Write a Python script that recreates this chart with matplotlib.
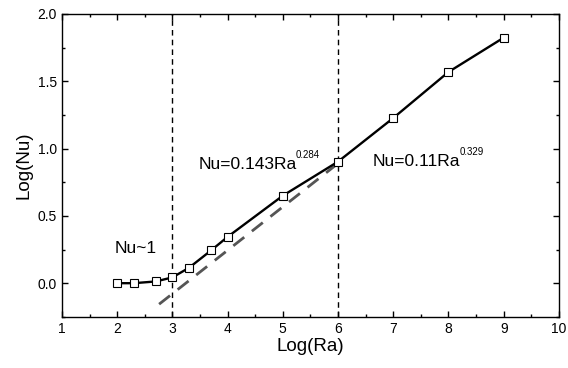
import numpy as np
import matplotlib.pyplot as plt
from matplotlib.ticker import MultipleLocator

plt.rcParams['font.family'] = ['Liberation Sans', 'DejaVu Sans']

# measured points
log_ra = [2.0, 2.3, 2.7, 3.0, 3.3, 3.7, 4.0, 5.0, 6.0, 7.0, 8.0, 9.0]
log_nu = [0.0, 0.0, 0.013, 0.043, 0.114, 0.243, 0.344, 0.65, 0.903, 1.227, 1.569, 1.824]

# fitted line (gray dashed)
fit_x = [2.76, 6.0]
fit_y = [-0.156, 0.89]

# regime boundaries
bounds = [3, 6]

fig = plt.figure(figsize=(5.68, 3.68), dpi=100)
ax = fig.add_axes([0.109, 0.139, 0.875, 0.823])

for b in bounds:
    ax.axvline(b, color='k', lw=1, ls=(0, (4, 3)), zorder=1)

ax.plot(fit_x, fit_y, color='#555555', lw=2, ls=(0, (5, 3.5)), zorder=2)
ax.plot(log_ra, log_nu, color='k', lw=1.7, marker='s', ms=5.5,
        mfc='white', mec='k', mew=0.8, zorder=3)

ax.text(1.96, 0.225, 'Nu~1', fontsize=12.5, va='baseline')
ax.text(3.48, 0.845, 'Nu=0.143Ra', fontsize=12.5, va='baseline')
ax.text(5.24, 0.93, '0.284', fontsize=7, va='baseline')
ax.text(6.63, 0.87, 'Nu=0.11Ra', fontsize=12.5, va='baseline')
ax.text(8.2, 0.955, '0.329', fontsize=7, va='baseline')

ax.set_xlim(1, 10)
ax.set_ylim(-0.25, 2.0)
ax.xaxis.set_major_locator(MultipleLocator(1))
ax.xaxis.set_minor_locator(MultipleLocator(0.5))
ax.yaxis.set_major_locator(MultipleLocator(0.5))
ax.yaxis.set_minor_locator(MultipleLocator(0.25))
ax.yaxis.set_major_formatter(plt.FormatStrFormatter('%.1f'))
ax.tick_params(which='both', direction='in', top=True, right=True,
               labelsize=10, width=1)
ax.tick_params(which='major', length=4)
ax.tick_params(which='minor', length=2.5)
for s in ax.spines.values():
    s.set_linewidth(1)

ax.set_xlabel('Log(Ra)', fontsize=13.5, labelpad=2)
ax.set_ylabel('Log(Nu)', fontsize=13.5, labelpad=4)

fig.savefig('out.png', dpi=100)
